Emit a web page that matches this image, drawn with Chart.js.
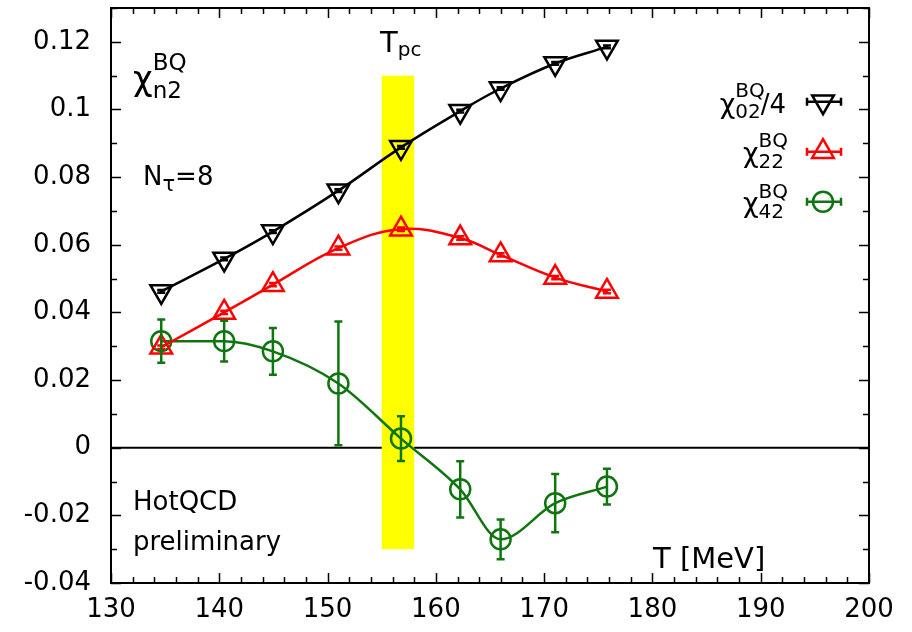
<!DOCTYPE html>
<html>
<head>
<meta charset="utf-8">
<script src="https://cdn.jsdelivr.net/npm/chart.js@4/dist/chart.umd.min.js"></script>
<style>
html,body{margin:0;padding:0;background:#fff;}
canvas{display:block;}
</style>
</head>
<body>
<canvas id="c" width="912" height="632"></canvas>
<script>
// ---- data ----
const temps = [134.64, 140.45, 144.95, 151.00, 156.78, 162.25, 165.98, 171.02, 175.80];
const chi02over4 = [0.0462, 0.0558, 0.0639, 0.0760, 0.0888, 0.0995, 0.1062, 0.1136, 0.1185];
const chi02Err = [0.0004, 0.0004, 0.0004, 0.0004, 0.0004, 0.0004, 0.0004, 0.0004, 0.0004];
const chi22 = [0.0297, 0.0400, 0.0482, 0.0590, 0.0646, 0.0620, 0.0570, 0.0503, 0.0462];
const chi22Err = [0.0005, 0.0005, 0.0005, 0.0005, 0.0005, 0.0005, 0.0005, 0.0005, 0.0005];
const chi42 = [0.0315, 0.0315, 0.0285, 0.0190, 0.0027, -0.0123, -0.0271, -0.0164, -0.0115];
const chi42Err = [0.0064, 0.0060, 0.0069, 0.0183, 0.0066, 0.0083, 0.0059, 0.0086, 0.0053];
const tpcBandT = [155, 158];
const tpcBandY = [-0.03, 0.11];
const xTicks = [130, 140, 150, 160, 170, 180, 190, 200];
const xTickLabels = ['130', '140', '150', '160', '170', '180', '190', '200'];
const yTicks = [-0.04, -0.02, 0, 0.02, 0.04, 0.06, 0.08, 0.10, 0.12];
const yTickLabels = ['-0.04', '-0.02', '0', '0.02', '0.04', '0.06', '0.08', '0.1', '0.12'];
const xMinorStep = 2;
const yMinorStep = 0.01;

const GREEN = '#0f760f';
const RED = '#ff0000';
const BLACK = '#000000';
const FONT = 'DejaVu Sans';

function pts(ys) { return temps.map((t, i) => ({x: t, y: ys[i]})); }

const seriesErr = [chi02Err, chi22Err, chi42Err];

function markerPath(ctx, style, x, y, r, rot) {
  ctx.beginPath();
  if (style === 'circle') {
    ctx.arc(x, y, r, 0, Math.PI * 2);
  } else {
    let rad = rot * Math.PI / 180;
    const step = 2 * Math.PI / 3;
    ctx.moveTo(x + Math.sin(rad) * r, y - Math.cos(rad) * r);
    rad += step;
    ctx.lineTo(x + Math.sin(rad) * r, y - Math.cos(rad) * r);
    rad += step;
    ctx.lineTo(x + Math.sin(rad) * r, y - Math.cos(rad) * r);
    ctx.closePath();
  }
  ctx.stroke();
}

const bandPlugin = {
  id: 'band',
  beforeDatasetsDraw(chart) {
    const {ctx, chartArea: a, scales: {x, y}} = chart;
    ctx.save();
    ctx.strokeStyle = '#000';
    ctx.lineWidth = 2;
    const y0 = y.getPixelForValue(0);
    ctx.beginPath(); ctx.moveTo(a.left, y0); ctx.lineTo(a.right, y0); ctx.stroke();
    ctx.fillStyle = '#ffff00';
    const x1 = x.getPixelForValue(tpcBandT[0]), x2 = x.getPixelForValue(tpcBandT[1]);
    const yt = y.getPixelForValue(tpcBandY[1]), yb = y.getPixelForValue(tpcBandY[0]);
    ctx.fillRect(x1, yt, x2 - x1, yb - yt);
    ctx.restore();
  }
};

const errPlugin = {
  id: 'errbars',
  afterDatasetsDraw(chart) {
    const {ctx, scales: {y}} = chart;
    ctx.save();
    chart.data.datasets.forEach((ds, i) => {
      const meta = chart.getDatasetMeta(i);
      const errs = seriesErr[i];
      ctx.strokeStyle = ds.borderColor;
      ctx.lineWidth = 2.5;
      meta.data.forEach((el, j) => {
        const v = ds.data[j].y;
        const yt = y.getPixelForValue(v + errs[j]);
        const yb = y.getPixelForValue(v - errs[j]);
        const cx = el.x;
        ctx.beginPath();
        ctx.moveTo(cx, yt); ctx.lineTo(cx, yb);
        ctx.moveTo(cx - 4, yt); ctx.lineTo(cx + 4, yt);
        ctx.moveTo(cx - 4, yb); ctx.lineTo(cx + 4, yb);
        ctx.stroke();
      });
    });
    ctx.restore();
  }
};

function drawSeq(ctx, x, parts) {
  let cx = x;
  parts.forEach(p => {
    ctx.font = p.size + 'px "' + FONT + '"';
    ctx.fillText(p.t, cx, p.base);
    cx += ctx.measureText(p.t).width;
  });
  return cx;
}

function chiLabel(ctx, rightX, base, chiSize, scrSize, sup, sub, tail, tailSize, supBase, subBase) {
  ctx.font = chiSize + 'px "' + FONT + '"';
  const chiW = ctx.measureText('\u03c7').width;
  ctx.font = scrSize + 'px "' + FONT + '"';
  const supW = ctx.measureText(sup).width;
  const subW = ctx.measureText(sub).width;
  let tailW = 0;
  if (tail) { ctx.font = tailSize + 'px "' + FONT + '"'; tailW = ctx.measureText(tail).width; }
  const total = chiW + Math.max(supW, subW + tailW);
  const x0 = rightX - total;
  ctx.font = chiSize + 'px "' + FONT + '"';
  ctx.fillText('\u03c7', x0, base);
  ctx.font = scrSize + 'px "' + FONT + '"';
  ctx.fillText(sup, x0 + chiW, supBase);
  ctx.fillText(sub, x0 + chiW, subBase);
  if (tail) { ctx.font = tailSize + 'px "' + FONT + '"'; ctx.fillText(tail, x0 + chiW + subW, base); }
}

const decoPlugin = {
  id: 'deco',
  afterDraw(chart) {
    const {ctx, chartArea: a, scales: {x, y}} = chart;
    ctx.save();
    ctx.strokeStyle = '#000';
    ctx.lineWidth = 2;
    ctx.strokeRect(a.left, a.top, a.right - a.left, a.bottom - a.top);
    ctx.lineWidth = 1.5;
    ctx.beginPath();
    for (let v = x.min; v <= x.max + 1e-9; v += xMinorStep) {
      const major = xTicks.some(t => Math.abs(t - v) < 1e-6);
      const len = major ? 10 : 6;
      const px = Math.round(x.getPixelForValue(v)) + 0.5;
      ctx.moveTo(px, a.bottom); ctx.lineTo(px, a.bottom - len);
      ctx.moveTo(px, a.top); ctx.lineTo(px, a.top + len);
    }
    for (let v = y.min; v <= y.max + 1e-9; v += yMinorStep) {
      const major = yTicks.some(t => Math.abs(t - v) < 1e-6);
      const len = major ? 10 : 6;
      const py = Math.round(y.getPixelForValue(v)) + 0.5;
      ctx.moveTo(a.left, py); ctx.lineTo(a.left + len, py);
      ctx.moveTo(a.right, py); ctx.lineTo(a.right - len, py);
    }
    ctx.stroke();

    ctx.fillStyle = '#000';
    ctx.textBaseline = 'alphabetic';
    ctx.textAlign = 'left';
    ctx.font = '34px "' + FONT + '"';
    ctx.fillText('\u03c7', 133, 90);
    const cw = ctx.measureText('\u03c7').width;
    ctx.font = '23px "' + FONT + '"';
    ctx.fillText('BQ', 133 + cw, 70);
    ctx.fillText('n2', 133 + cw, 98);
    drawSeq(ctx, 143, [
      {t: 'N', size: 26, base: 185},
      {t: '\u03c4', size: 21, base: 191},
      {t: '=8', size: 26, base: 185}
    ]);
    drawSeq(ctx, 380, [
      {t: 'T', size: 29, base: 52},
      {t: 'pc', size: 20, base: 56}
    ]);
    ctx.font = '26px "' + FONT + '"';
    ctx.fillText('HotQCD', 133, 510);
    ctx.fillText('preliminary', 133, 550);
    ctx.font = '29px "' + FONT + '"';
    ctx.fillText('T [MeV]', 653, 568);

    const ds = chart.data.datasets;
    const legY = [101.7, 151.7, 201.7];
    chiLabel(ctx, 786, 113, 27, 20, 'BQ', '02', '/4', 26, 96.5, 118);
    chiLabel(ctx, 788, 162, 27, 20, 'BQ', '22', null, 0, 146.5, 168);
    chiLabel(ctx, 788, 212, 27, 20, 'BQ', '42', null, 0, 197.5, 218);
    const styles = [['triangle', 180], ['triangle', 0], ['circle', 0]];
    const radii = [12.5, 12.5, 10];
    ds.forEach((d, i) => {
      const yy = legY[i];
      ctx.strokeStyle = d.borderColor;
      ctx.lineWidth = 2.5;
      ctx.beginPath();
      ctx.moveTo(807, yy); ctx.lineTo(841, yy);
      ctx.moveTo(807, yy - 4); ctx.lineTo(807, yy + 4);
      ctx.moveTo(841, yy - 4); ctx.lineTo(841, yy + 4);
      ctx.stroke();
      markerPath(ctx, styles[i][0], 823, yy, radii[i], styles[i][1]);
    });
    ctx.restore();
  }
};

const tickFont = {family: FONT, size: 26};

new Chart(document.getElementById('c'), {
  type: 'scatter',
  data: {
    datasets: [
      {
        label: 'chi02/4', data: pts(chi02over4), showLine: true, tension: 0.4,
        borderColor: BLACK, borderWidth: 2.5, backgroundColor: 'rgba(0,0,0,0)',
        pointStyle: 'triangle', rotation: 180, pointRadius: 12.5, pointBorderWidth: 2.5,
        pointBackgroundColor: 'rgba(0,0,0,0)', pointBorderColor: BLACK
      },
      {
        label: 'chi22', data: pts(chi22), showLine: true, tension: 0.4,
        borderColor: RED, borderWidth: 2.5, backgroundColor: 'rgba(0,0,0,0)',
        pointStyle: 'triangle', rotation: 0, pointRadius: 12.5, pointBorderWidth: 2.5,
        pointBackgroundColor: 'rgba(0,0,0,0)', pointBorderColor: RED
      },
      {
        label: 'chi42', data: pts(chi42), showLine: true, cubicInterpolationMode: 'monotone',
        borderColor: GREEN, borderWidth: 2.5, backgroundColor: 'rgba(0,0,0,0)',
        pointStyle: 'circle', pointRadius: 10, pointBorderWidth: 2.5,
        pointBackgroundColor: 'rgba(0,0,0,0)', pointBorderColor: GREEN
      }
    ]
  },
  options: {
    responsive: false,
    animation: false,
    devicePixelRatio: 1,
    layout: {autoPadding: false, padding: {top: 8, right: 43, left: 0, bottom: 0}},
    plugins: {legend: {display: false}, tooltip: {enabled: false}},
    scales: {
      x: {
        type: 'linear', min: 130, max: 200,
        afterBuildTicks: s => { s.ticks = xTicks.map(v => ({value: v})); },
        afterFit: s => { s.height = 49; s.paddingLeft = 0; s.paddingRight = 0; },
        grid: {display: false, drawTicks: false},
        border: {display: false},
        ticks: {
          font: tickFont, color: '#000', padding: 12, maxRotation: 0, autoSkip: false,
          callback: (v, i) => xTickLabels[i]
        }
      },
      y: {
        type: 'linear', min: -0.04, max: 0.13,
        afterBuildTicks: s => { s.ticks = yTicks.map(v => ({value: v})); },
        afterFit: s => { s.width = 111; s.paddingTop = 0; s.paddingBottom = 0; },
        grid: {display: false, drawTicks: false},
        border: {display: false},
        ticks: {
          font: tickFont, color: '#000', padding: 20, autoSkip: false,
          callback: (v, i) => yTickLabels[i]
        }
      }
    }
  },
  plugins: [bandPlugin, errPlugin, decoPlugin]
});
</script>
</body>
</html>
